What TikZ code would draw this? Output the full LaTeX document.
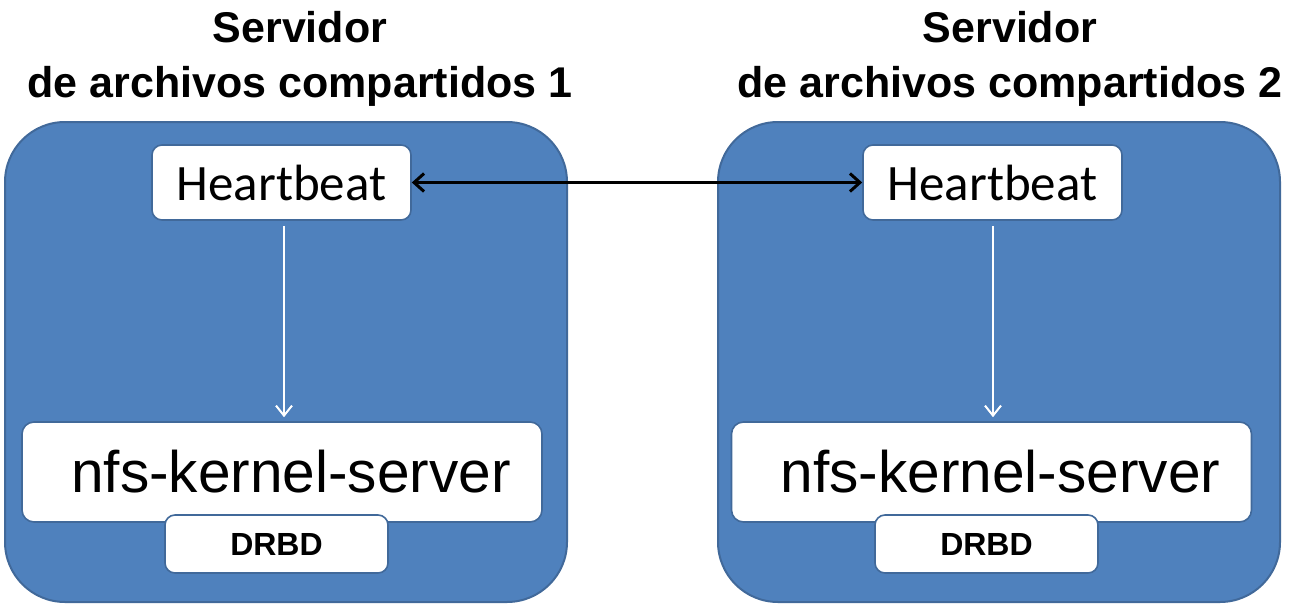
\documentclass[tikz,border=0pt]{standalone}
\usepackage{fontspec}
\setmainfont{Liberation Sans}
\newfontfamily\hbfont{Carlito}
\usetikzlibrary{positioning,arrows.meta}

\definecolor{srvblue}{HTML}{4F81BD}
\definecolor{srvedge}{HTML}{41699A}

\tikzset{
  server/.style={draw=srvedge,fill=srvblue,line width=1pt,rounded corners=30pt,minimum width=281pt,minimum height=240pt},
  hbbox/.style={draw=srvedge,fill=white,line width=0.8pt,rounded corners=5pt,minimum width=129.5pt,minimum height=37.5pt,inner sep=0pt,font=\hbfont\fontsize{25.5}{30}\selectfont},
  nfsbox/.style={draw=srvedge,fill=white,line width=0.8pt,rounded corners=6pt,minimum width=260pt,minimum height=50pt,inner sep=0pt,font=\fontsize{29.3}{34}\selectfont},
  drbdbox/.style={draw=srvedge,fill=white,line width=0.8pt,rounded corners=5pt,minimum width=111.5pt,minimum height=29pt,inner sep=0pt,font=\bfseries\fontsize{16}{19}\selectfont},
  title/.style={align=center,font=\bfseries\fontsize{21.5}{27.5}\selectfont},
  hblink/.style={{Straight Barb[length=5pt,width=9pt]}-{Straight Barb[length=5pt,width=9pt]},line width=1.5pt,black},
  down/.style={-{Straight Barb[length=5pt,width=8pt]},line width=1pt,white,shorten <=2.5pt,shorten >=2pt}
}

\begin{document}
\begin{tikzpicture}[x=0.5pt,y=-0.5pt]
  \useasboundingbox (0,0) rectangle (1307,605);

  % server 1
  \node[server] (srv1) at (286,362) {};
  \node[title] (t1) at (300,59) {Servidor\\ de archivos compartidos 1};
  \node[hbbox] (hb1) at (281.5,182.5) {Heartbeat};
  \node[nfsbox] (nfs1) at (282,472) {\hspace{9pt}nfs-kernel-server};
  \node[drbdbox] (drbd1) at (276.5,544) {DRBD};

  % server 2
  \node[server] (srv2) at (999,362) {};
  \node[title] (t2) at (1010,59) {Servidor\\ de archivos compartidos 2};
  \node[hbbox] (hb2) at (992.5,182.5) {Heartbeat};
  \node[nfsbox] (nfs2) at (991.5,472) {\hspace{9pt}nfs-kernel-server};
  \node[drbdbox] (drbd2) at (986.5,544) {DRBD};

  % links
  \draw[hblink] (hb1.east) -- (hb2.west);
  \draw[down] (hb1.south -| 284,0) -- (nfs1.north -| 284,0);
  \draw[down] (hb2.south -| 993,0) -- (nfs2.north -| 993,0);
\end{tikzpicture}
\end{document}
